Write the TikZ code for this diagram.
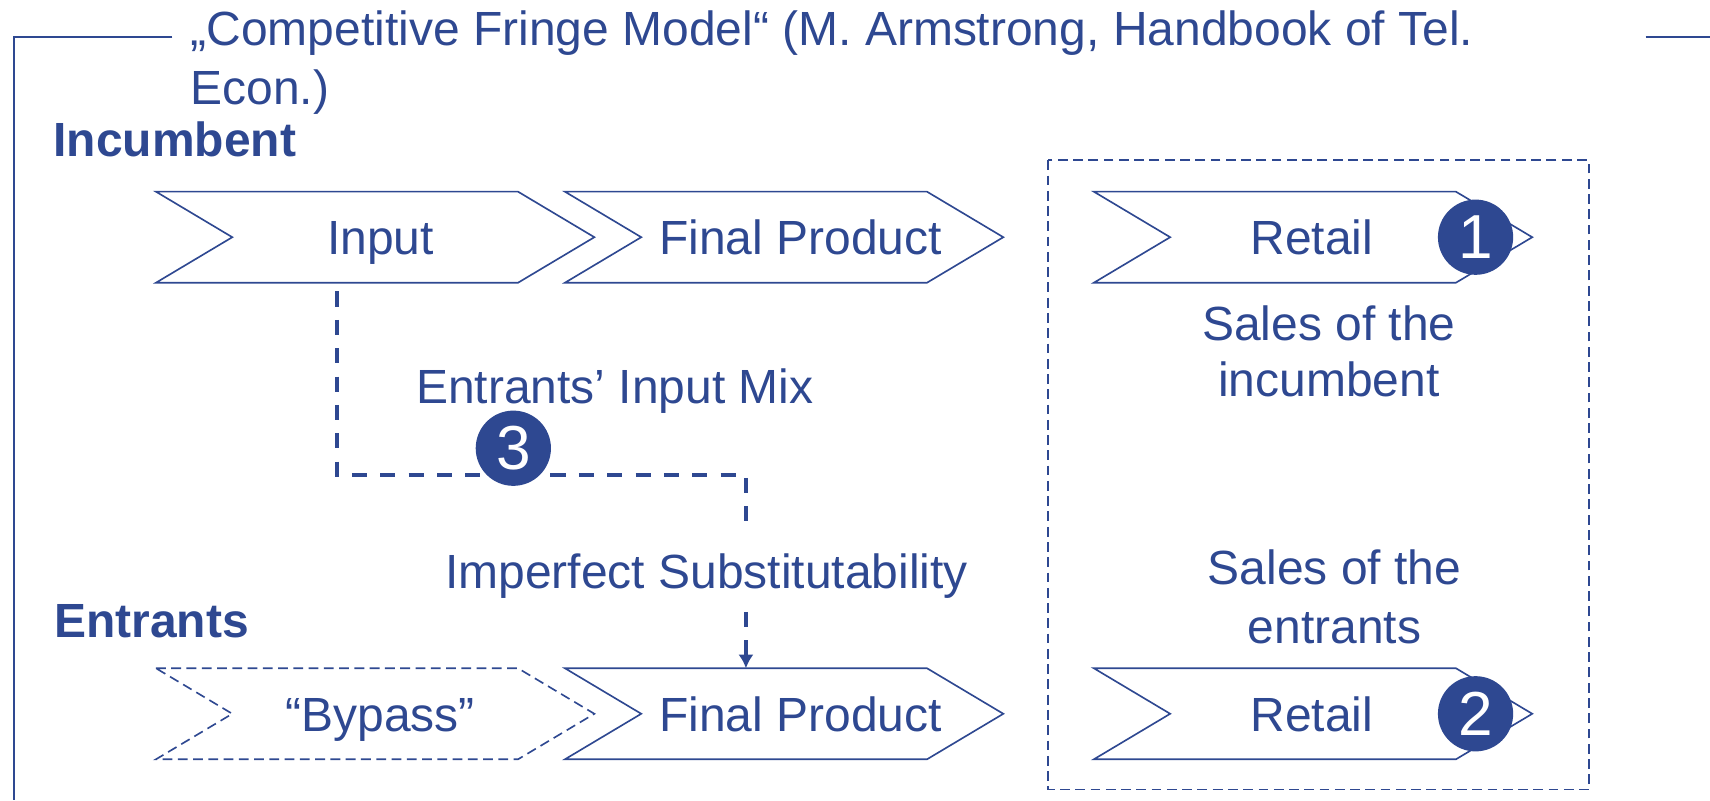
\documentclass[tikz,border=0pt]{standalone}
\usepackage{fontspec}
\setmainfont{Liberation Sans}
\usetikzlibrary{arrows.meta}
\definecolor{navy}{RGB}{46,72,145}
\tikzset{
  stage/.style={minimum width=402pt, minimum height=83.5pt, inner sep=0pt, outer sep=0pt},
  chev/.style={draw=navy, line width=1.5pt, line join=miter},
  chevdash/.style={chev, dash pattern=on 9pt off 5pt},
  lbl/.style={text=navy, inner sep=0pt, font=\fontsize{44}{53.5}\selectfont},
  head/.style={lbl, font=\fontsize{44}{53.5}\selectfont\bfseries},
  num/.style={circle, fill=navy, text=white, minimum size=69pt, inner sep=0pt,
    font=\fontsize{57}{57}\selectfont},
  conn/.style={draw=navy, line width=3.2pt, dash pattern=on 13.8pt off 12.2pt},
  frame/.style={draw=navy, line width=2pt},
  zone/.style={draw=navy, line width=1.5pt, dash pattern=on 9pt off 5pt},
}
% chevron outline around a stage node: notch on the left, point on the right
\newcommand\drawchevron[2]{%
  \draw[#1] (#2.north west) -- ([xshift=-70pt]#2.north east) -- (#2.east)
    -- ([xshift=-70pt]#2.south east) -- (#2.south west)
    -- ([xshift=70pt]#2.west) -- cycle;}

\begin{document}
\begin{tikzpicture}[x=1pt,y=-1pt]
\useasboundingbox (0,0) rectangle (1568,734);

% outer frame
\coordinate (fTL) at (12.7,34);
\coordinate (fTE) at (158,34);
\coordinate (fBL) at (12.7,734);
\coordinate (fRS) at (1509,34);
\coordinate (fRE) at (1568,34);
\draw[frame] (fTE) -- (fTL) -- (fBL);
\draw[frame] (fRS) -- (fRE);

% title
\node[lbl, anchor=base west] (title1) at (174.5,42) {„Competitive Fringe Model“ (M. Armstrong, Handbook of Tel.};
\node[lbl, anchor=base west] (title2) at (174.5,95.4) {Econ.)};

% row headings
\node[head, anchor=base west] (inc) at (49,143.6) {Incumbent};
\node[head, anchor=base west] (ent) at (49.5,584.4) {Entrants};

% retail zone
\coordinate (zTL) at (961,147);
\coordinate (zBR) at (1457,724);
\draw[zone] (zTL) rectangle (zBR);

% value-chain stages
\node[stage] (inp)  at (344,217.5) {};
\node[stage] (fp1)  at (719,217.5) {};
\node[stage] (ret1) at (1204,217.5) {};
\node[stage] (byp)  at (344,654.5) {};
\node[stage] (fp2)  at (719,654.5) {};
\node[stage] (ret2) at (1204,654.5) {};
\drawchevron{chev}{inp}
\drawchevron{chev}{fp1}
\drawchevron{chev}{ret1}
\drawchevron{chevdash}{byp}
\drawchevron{chev}{fp2}
\drawchevron{chev}{ret2}

\node[lbl, anchor=base] (inpT)  at (349,233.8) {Input};
\node[lbl, anchor=base] (fp1T)  at (734,233.8) {Final Product};
\node[lbl, anchor=base] (ret1T) at (1203,233.8) {Retail};
\node[lbl, anchor=base] (bypT)  at (348.5,670.9) {“Bypass”};
\node[lbl, anchor=base] (fp2T)  at (734,670.9) {Final Product};
\node[lbl, anchor=base] (ret2T) at (1203,670.9) {Retail};

% sales captions
\node[lbl, anchor=base] (s1a) at (1218.5,311.8) {Sales of the};
\node[lbl, anchor=base] (s1b) at (1218.5,363.7) {incumbent};
\node[lbl, anchor=base] (s2a) at (1223.7,536.4) {Sales of the};
\node[lbl, anchor=base] (s2b) at (1223.7,589.9) {entrants};

% input mix connector
\node[lbl, anchor=base west] (mix) at (381.5,370.4) {Entrants’ Input Mix};
\node[lbl, anchor=base west] (subst) at (408,539.5) {Imperfect Substitutability};
\coordinate (mixL) at (309,435.5);
\coordinate (mixR) at (684,435.5);
\coordinate (subTop) at (684,487.5);
\coordinate (subBot) at (684,561);
\draw[conn] ([yshift=-8pt]inp.south -| mixL) -- (mixL) -- (mixR) -- (subTop);
\draw[conn, -{Latex[length=12.5pt,width=14pt]}] (subBot) -- (subBot |- fp2.north);

% numbered markers
\node[num] (c1) at (1353,217.5) {1};
\node[num] (c2) at (1353,654.5) {2};
\node[num] (c3) at (470.7,411) {3};
\end{tikzpicture}
\end{document}
